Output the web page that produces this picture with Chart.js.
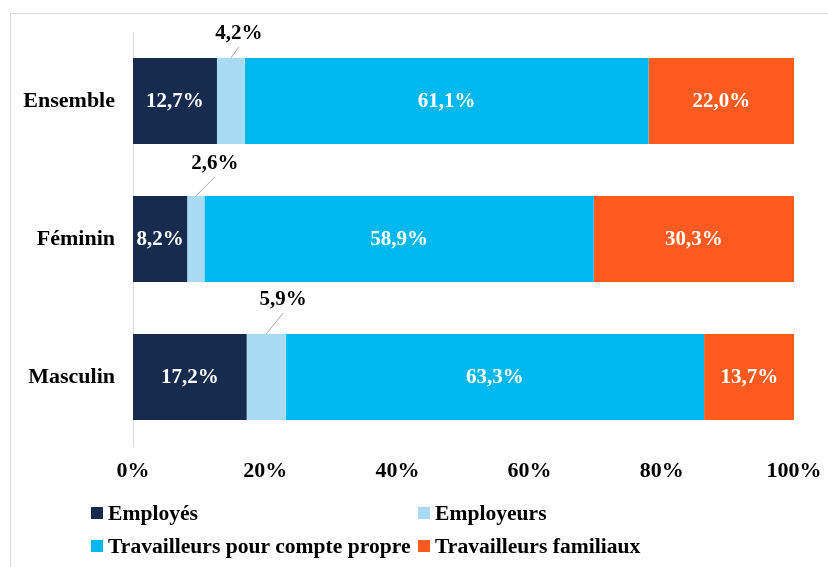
<!DOCTYPE html>
<html>
<head>
<meta charset="utf-8">
<script src="https://cdn.jsdelivr.net/npm/chart.js@4.4.1/dist/chart.umd.min.js"></script>
<style>
  body { margin: 0; background: #fff; }
  #wrap { position: relative; width: 828px; height: 567px; overflow: hidden; }
  #frame { position: absolute; left: 10px; top: 13px; width: 900px; height: 700px;
           border-left: 1px solid #d9d9d9; border-top: 1px solid #d9d9d9; }
  canvas { position: absolute; left: 0; top: 0; }
  .leg { position: absolute; font: bold 21.6px "Liberation Serif", "Times New Roman", serif;
         color: #000; line-height: 24px; white-space: nowrap; }
  .leg i { display: inline-block; width: 12px; height: 12px; margin-right: 5px; vertical-align: 1px; }
</style>
</head>
<body>
<div id="wrap">
  <div id="frame"></div>
  <canvas id="chart" width="828" height="567"></canvas>
  <div id="legend"></div>
</div>
<script>
const categories = ['Ensemble', 'Féminin', 'Masculin'];
const seriesNames = ['Employés', 'Employeurs', 'Travailleurs pour compte propre', 'Travailleurs familiaux'];
const employes = [12.7, 8.2, 17.2];
const employeurs = [4.2, 2.6, 5.9];
const comptePropre = [61.1, 58.9, 63.3];
const familiaux = [22.0, 30.3, 13.7];
const xTicks = [0, 20, 40, 60, 80, 100];

const colors = ['#172b4f', '#a9dbf4', '#00b8f0', '#ff5a1f'];
// where the small "Employeurs" labels sit relative to the bar (px)
const outShiftX = [8, 19, 17];
const outShiftY = [24, 32, 34];

const serif = '"Liberation Serif", "Times New Roman", serif';
const fmt = v => v.toFixed(1).replace('.', ',') + '%';

const labelPlugin = {
  id: 'barLabels',
  afterDatasetsDraw(chart) {
    const ctx = chart.ctx;
    ctx.save();
    ctx.font = 'bold 21px ' + serif;
    ctx.textAlign = 'center';
    ctx.textBaseline = 'middle';
    chart.data.datasets.forEach((ds, di) => {
      const meta = chart.getDatasetMeta(di);
      meta.data.forEach((bar, i) => {
        const v = ds.data[i];
        const cx = (bar.x + bar.base) / 2;
        if (di === 1) {
          const top = bar.y - bar.height / 2;
          const lx = cx + outShiftX[i];
          const ly = top - outShiftY[i];
          ctx.strokeStyle = '#a6a6a6';
          ctx.lineWidth = 1;
          ctx.beginPath();
          ctx.moveTo(lx, ly + 13);
          ctx.lineTo(cx, top);
          ctx.stroke();
          ctx.fillStyle = '#000';
          ctx.fillText(fmt(v), lx, ly);
        } else {
          ctx.fillStyle = '#fff';
          ctx.fillText(fmt(v), cx, bar.y + 1);
        }
      });
    });
    ctx.restore();
  }
};

const dataSets = [employes, employeurs, comptePropre, familiaux];

new Chart(document.getElementById('chart'), {
  type: 'bar',
  data: {
    labels: categories,
    datasets: dataSets.map((d, k) => ({
      label: seriesNames[k],
      data: d,
      backgroundColor: colors[k],
      borderWidth: 0,
      barPercentage: 0.623,
      categoryPercentage: 1
    }))
  },
  options: {
    indexAxis: 'y',
    responsive: false,
    animation: false,
    layout: { padding: { top: 32, right: 34, bottom: 0, left: 0 } },
    scales: {
      x: {
        stacked: true,
        min: 0,
        max: 100,
        afterBuildTicks: s => { s.ticks = xTicks.map(v => ({ value: v })); },
        afterFit: s => { s.height = 121; s.paddingLeft = 0; s.paddingRight = 0; },
        grid: { display: false, drawTicks: false },
        border: { display: false },
        ticks: {
          padding: 12,
          color: '#000',
          font: { family: serif, size: 22, weight: 'bold' },
          callback: v => v + '%'
        }
      },
      y: {
        stacked: true,
        afterFit: s => { s.width = 133; },
        grid: { display: false, drawTicks: false },
        border: { display: true, color: '#d9d9d9', width: 1 },
        ticks: {
          padding: 18,
          color: '#000',
          font: { family: serif, size: 22, weight: 'bold' }
        }
      }
    },
    plugins: {
      legend: { display: false },
      tooltip: { enabled: false }
    }
  },
  plugins: [labelPlugin]
});

// legend laid out in two columns like the original
const legPos = [[91, 501], [418, 501], [91, 534], [418, 534]];
const legend = document.getElementById('legend');
seriesNames.forEach((name, k) => {
  const el = document.createElement('div');
  el.className = 'leg';
  el.style.left = legPos[k][0] + 'px';
  el.style.top = legPos[k][1] + 'px';
  el.innerHTML = '<i style="background:' + colors[k] + '"></i>' + name;
  legend.appendChild(el);
});
</script>
</body>
</html>
